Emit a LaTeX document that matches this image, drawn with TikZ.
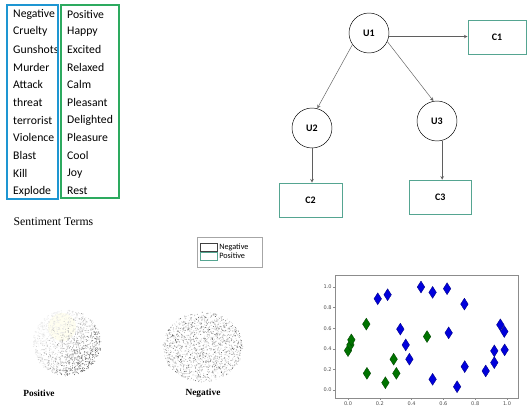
\documentclass[tikz,border=0pt]{standalone}
\usepackage{fontspec}
\setmainfont{Liberation Serif}
\newfontfamily\calibri{Carlito}
\newfontfamily\plotfont{DejaVu Sans}
\usetikzlibrary{positioning,shapes.geometric}

\definecolor{termblue}{RGB}{30,150,210}
\definecolor{termgreen}{RGB}{45,170,95}
\definecolor{boxteal}{RGB}{85,165,145}
\definecolor{arrowgray}{RGB}{95,95,95}
\definecolor{dotblue}{RGB}{0,0,220}
\definecolor{dotgreen}{RGB}{0,115,0}

\tikzset{
  term/.style={anchor=west, inner sep=0pt, font=\calibri\fontsize{10}{12}\selectfont},
  user/.style={circle, draw=black, thin, minimum size=1.2cm, inner sep=0pt,
    font=\calibri\bfseries\fontsize{8.5}{10}\selectfont},
  cluster/.style={draw=boxteal, thick, minimum height=1.02cm, inner sep=0pt,
    font=\calibri\bfseries\fontsize{8.5}{10}\selectfont},
  link/.style={draw=arrowgray, ->, >=stealth, line width=0.4pt},
  keybox/.style={minimum width=0.51cm, minimum height=0.24cm, inner sep=0pt, line width=0.5pt},
  keytext/.style={right, inner sep=1.5pt, font=\calibri\fontsize{7}{8}\selectfont},
  ticklabel/.style={inner sep=1pt, text=black!70, font=\plotfont\fontsize{4.3}{5}\selectfont},
  bluemark/.style={diamond, fill=dotblue, draw=dotblue!60!black, line width=0.3pt,
    minimum width=0.23cm, minimum height=0.36cm, inner sep=0pt},
  greenmark/.style={bluemark, fill=dotgreen, draw=dotgreen!60!black},
  cloudlabel/.style={font=\bfseries\fontsize{8}{9}\selectfont}
}

\begin{document}
\begin{tikzpicture}[x=0.03cm, y=-0.03cm]
  \useasboundingbox (0,0) rectangle (527,408);

  \foreach \w [count=\i from 0] in {Negative,Cruelty,Gunshots,Murder,Attack,threat,terrorist,Violence,Blast,Kill,Explode}
    \node[term] (neg\i) at (13,{14+17.7*\i}) {\w};
  \foreach \w [count=\i from 0] in {Positive,Happy,Excited,Relaxed,Calm,Pleasant,Delighted,Pleasure,Cool,Joy,Rest}
    \node[term] (pos\i) at (67,{14+17.7*\i}) {\w};
  \fill[white] (59,5) rectangle (61,199);
  \draw[termblue, line width=2pt] (7,5) rectangle (58,199);
  \draw[termgreen, line width=2pt] (61,5) rectangle (119,198);
  \node[font=\fontsize{10}{12}\selectfont] (termcaption) at (53.5,222) {Sentiment Terms};

  \node[user] (u1) at (369,33) {U1};
  \node[user] (u2) at (312,128) {U2};
  \node[user] (u3) at (437,121) {U3};
  \node[cluster, minimum width=1.74cm] (c1) at (497,37) {C1};
  \node[cluster, minimum width=1.89cm] (c2) at (310.5,200) {C2};
  \node[cluster, minimum width=1.86cm] (c3) at (440.3,197.2) {C3};
  \draw[link] (u1.-10) -- (c1.west |- u1.-10);
  \draw[link] (u1.215) -- (u2.75);
  \draw[link] (u1.-25) -- (u3.100);
  \draw[link] (u2.south) -- (u2.south |- c2.north);
  \draw[link] (u3.-75) -- (u3.-75 |- c3.north);

  \draw[black!35, line width=0.4pt] (197,237) rectangle (262,267);
  \node[keybox, draw=black!75] (negkey) at (208.5,247) {};
  \node[keybox, draw=boxteal] (poskey) at (208.5,256) {};
  \node[keytext] (negkeytext) at (negkey.east) {Negative};
  \node[keytext] (poskeytext) at (poskey.east) {Positive};

  \pgfmathsetseed{17}
  \fill[yellow!6!white] (62,327) circle (14);
  \foreach \i in {1,...,1400}{
    \pgfmathsetmacro\ang{360*rnd}
    \pgfmathsetmacro\rad{sqrt(rnd)}
    \pgfmathsetmacro\tone{min(90,max(8,12+40*rnd^2+28*\rad*(cos(\ang)+sin(\ang))))}
    \fill[black!\tone] ({67+34*\rad*cos(\ang)},{343+33*\rad*sin(\ang)}) circle (0.4pt);
  }
  \foreach \i in {1,...,1600}{
    \pgfmathsetmacro\ang{360*rnd}
    \pgfmathsetmacro\rad{sqrt(rnd)}
    \pgfmathsetmacro\tone{min(90,max(8,14+60*rnd^2))}
    \fill[black!\tone] ({203+40*\rad*cos(\ang)},{347+35*\rad*sin(\ang)}) circle (0.4pt);
  }
  \node[cloudlabel] (poscloud) at (39,393) {Positive};
  \node[cloudlabel] (negcloud) at (203,393) {Negative};

  \begin{scope}[shift={(10.44cm,-11.7cm)}, x=4.77cm, y=3.09cm]
    \draw[black!45, line width=0.4pt] (-0.082,-0.078) rectangle (1.069,1.117);
    \foreach \t in {0.0,0.2,0.4,0.6,0.8,1.0}{
      \draw[black!45, line width=0.3pt] (-0.082,\t) -- ++(-0.012,0);
      \node[ticklabel, anchor=east] (ytick\t) at (-0.094,\t) {\t};
      \draw[black!45, line width=0.3pt] (\t,-0.078) -- ++(0,-0.02);
      \node[ticklabel, anchor=north] (xtick\t) at (\t,-0.098) {\t};
    }
    \foreach \u/\v [count=\i] in {0.187/0.886,0.249/0.925,0.459/1.0,0.532/0.948,0.623/0.984,0.732/0.834,0.329/0.591,0.363/0.438,0.386/0.299,0.633/0.555,0.532/0.104,0.686/0.032,0.734/0.227,0.866/0.185,0.920/0.380,0.920/0.266,0.958/0.633,0.983/0.568,0.985/0.390}
      \node[bluemark] (blue\i) at (\u,\v) {};
    \foreach \u/\v [count=\i] in {0.0/0.383,0.015/0.438,0.021/0.487,0.115/0.640,0.119/0.162,0.235/0.071,0.287/0.299,0.304/0.162,0.497/0.519}
      \node[greenmark] (green\i) at (\u,\v) {};
  \end{scope}
\end{tikzpicture}
\end{document}
